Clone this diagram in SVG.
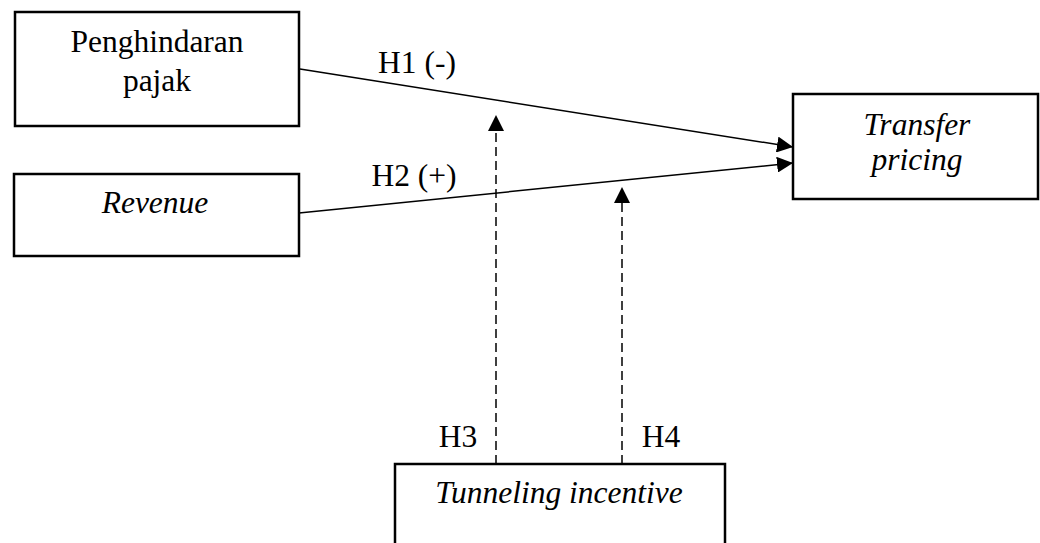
<svg xmlns="http://www.w3.org/2000/svg" width="1040" height="543" viewBox="0 0 1040 543">
<defs>
<style>
.box{fill:#fff;stroke:#000;stroke-width:2.5}
.t{font-family:"Liberation Serif","Times New Roman",serif;font-size:31.5px;fill:#000;text-anchor:middle}
.i{font-style:italic}
.ln{stroke:#000;stroke-width:1.5;fill:none}
.ds{stroke-dasharray:9,5}
</style>
<marker id="ah" viewBox="0 0 16 16" refX="16" refY="8" markerWidth="16" markerHeight="16" markerUnits="userSpaceOnUse" orient="auto">
<path d="M0,0 L16,8 L0,16 Z" fill="#000"/>
</marker>
</defs>
<rect width="1040" height="543" fill="#fff"/>
<g id="connectors">
<line class="ln" x1="300" y1="69" x2="793" y2="147" marker-end="url(#ah)"/>
<line class="ln" x1="299" y1="213" x2="793" y2="163" marker-end="url(#ah)"/>
<line class="ln ds" x1="496" y1="464" x2="496" y2="115" marker-end="url(#ah)"/>
<line class="ln ds" x1="622" y1="464" x2="622" y2="187" marker-end="url(#ah)"/>
<text class="t" x="417" y="73">H1 (-)</text>
<text class="t" x="414" y="186">H2 (+)</text>
<text class="t" x="458" y="447">H3</text>
<text class="t" x="661" y="447">H4</text>
</g>
<g id="node-penghindaran">
<rect class="box" x="15" y="12" width="284" height="114"/>
<text class="t" x="157" y="52">Penghindaran</text>
<text class="t" x="157" y="91">pajak</text>
</g>
<g id="node-revenue">
<rect class="box" x="14" y="174" width="285" height="82"/>
<text class="t i" x="155" y="213">Revenue</text>
</g>
<g id="node-transfer">
<rect class="box" x="793" y="94" width="245" height="105"/>
<text class="t i" x="917" y="135">Transfer</text>
<text class="t i" x="917" y="170">pricing</text>
</g>
<g id="node-tunneling">
<rect class="box" x="395" y="464" width="330" height="100"/>
<text class="t i" x="559" y="503">Tunneling incentive</text>
</g>
</svg>
